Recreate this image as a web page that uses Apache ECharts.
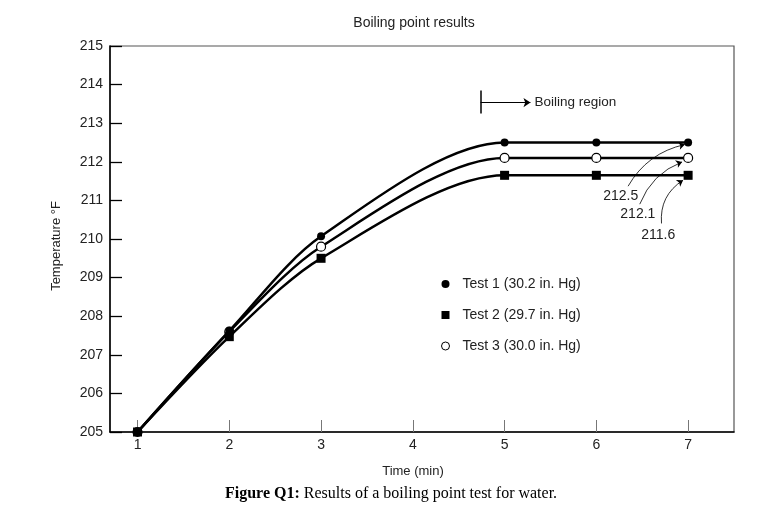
<!DOCTYPE html>
<html>
<head>
<meta charset="utf-8">
<script src="https://cdn.jsdelivr.net/npm/echarts@6/dist/echarts.min.js"></script>
<style>html,body{margin:0;padding:0;background:#fff}#c{width:771px;height:508px}</style>
</head>
<body>
<div id="c"></div>
<script>
const times = [1, 2, 3, 5, 6, 7];
const test1 = [205, 207.62, 210.07, 212.5, 212.5, 212.5];
const test2 = [205, 207.47, 209.5, 211.65, 211.65, 211.65];
const test3 = [205, 207.6, 209.8, 212.1, 212.1, 212.1];
const seriesNames = ['Test 1 (30.2 in. Hg)', 'Test 2 (29.7 in. Hg)', 'Test 3 (30.0 in. Hg)'];
const xTicks = [1, 2, 3, 4, 5, 6, 7];
const boilingValues = ['212.5', '212.1', '211.6'];

const SANS = 'Liberation Sans, Arial, sans-serif';
const SERIF = 'Liberation Serif, Times New Roman, serif';
const SQUARE = 'path://M0,0H10V10H0Z';
const SMOOTH = 0.3;

function pairs(ys) { return times.map((t, i) => [t, ys[i]]); }

const chart = echarts.init(document.getElementById('c'), null, {renderer: 'canvas'});

const arrowLines = [
  {coords: [[6.346, 211.368], [6.964, 212.448]], curv: 0.22},
  {coords: [[6.473, 210.902], [6.934, 211.997]], curv: 0.22},
  {coords: [[6.710, 210.403], [6.945, 211.523]], curv: 0.3}
];
const arrowLabelPos = [[6.266, 211.122], [6.452, 210.643], [6.675, 210.10]];

const option = {
  animation: false,
  backgroundColor: '#fff',
  title: [
    {
      text: 'Boiling point results',
      left: 414, top: 16, textAlign: 'center', padding: 0,
      textStyle: {fontFamily: SANS, fontSize: 14, fontWeight: 'normal', color: '#222'}
    },
    {
      text: '{b|Figure Q1:} Results of a boiling point test for water.',
      left: 225, top: 486, padding: 0,
      textStyle: {
        fontFamily: SERIF, fontSize: 16, fontWeight: 'normal', color: '#000',
        rich: {b: {fontFamily: SERIF, fontSize: 16, fontWeight: 'bold', color: '#000'}}
      }
    }
  ],
  grid: {
    left: 110, right: 37, top: 46, bottom: 76,
    show: true, borderColor: '#555', borderWidth: 1.2, backgroundColor: 'transparent'
  },
  legend: {
    orient: 'vertical',
    left: 436, top: 272,
    itemWidth: 24, itemHeight: 8, itemGap: 17,
    selectedMode: false,
    textStyle: {fontFamily: SANS, fontSize: 14, color: '#222'},
    data: [
      {name: seriesNames[0], icon: 'circle', itemStyle: {color: '#000', borderWidth: 0}},
      {name: seriesNames[1], icon: SQUARE, itemStyle: {color: '#000', borderWidth: 0}},
      {name: seriesNames[2], icon: 'circle', itemStyle: {color: '#fff', borderColor: '#000', borderWidth: 1}}
    ]
  },
  xAxis: {
    type: 'value', min: 0.7, max: 7.5,
    name: 'Time (min)', nameLocation: 'middle', nameGap: 33,
    nameTextStyle: {fontFamily: SANS, fontSize: 13, color: '#222', padding: [0, 18, 0, 0]},
    axisLine: {show: true, lineStyle: {color: '#000', width: 1.5}},
    axisTick: {show: true, inside: true, length: 12, customValues: xTicks, lineStyle: {color: '#777', width: 1}},
    axisLabel: {customValues: xTicks, margin: 6, fontFamily: SANS, fontSize: 14, color: '#222'},
    splitLine: {show: false}
  },
  yAxis: {
    type: 'value', min: 205, max: 215, interval: 1,
    name: 'Temperature °F', nameLocation: 'middle', nameGap: 47, nameRotate: 90,
    nameTextStyle: {fontFamily: SANS, fontSize: 13, color: '#222', padding: [0, 14, 0, 0]},
    axisLine: {show: true, lineStyle: {color: '#000', width: 1.5}},
    axisTick: {show: true, inside: true, length: 12, lineStyle: {color: '#000', width: 1.3}},
    axisLabel: {margin: 7, fontFamily: SANS, fontSize: 14, color: '#222'},
    splitLine: {show: false}
  },
  series: [
    {
      name: seriesNames[0], type: 'line', data: pairs(test1), smooth: SMOOTH,
      symbol: 'circle', symbolSize: 8, z: 3,
      lineStyle: {color: '#000', width: 2.5},
      itemStyle: {color: '#000', borderWidth: 0},
      markLine: {
        silent: true, animation: false,
        symbol: ['none', 'arrow'], symbolSize: 7,
        lineStyle: {color: '#000', width: 1, type: 'solid'},
        label: {show: false},
        data: [
          [
            {coord: [4.738, 213.85], symbol: 'none', lineStyle: {width: 1.5}},
            {coord: [4.738, 213.25], symbol: 'none', lineStyle: {width: 1.5}}
          ],
          [
            {coord: [4.738, 213.535], symbol: 'none',
             label: {show: true, position: 'end', distance: 4, formatter: 'Boiling region',
                     fontFamily: SANS, fontSize: 13.5, color: '#222'}},
            {coord: [5.282, 213.535], symbol: 'arrow', symbolSize: 7,
             label: {show: true, position: 'end', distance: 4, formatter: 'Boiling region',
                     fontFamily: SANS, fontSize: 13.5, color: '#222'}}
          ]
        ]
      },
      markPoint: {
        silent: true, animation: false,
        symbol: 'circle', symbolSize: 1,
        itemStyle: {color: 'rgba(0,0,0,0)'},
        label: {show: true, position: 'inside', fontFamily: SANS, fontSize: 14, color: '#222'},
        data: arrowLabelPos.map((p, i) => ({coord: p, value: boilingValues[i],
          label: {formatter: boilingValues[i]}}))
      }
    },
    {
      name: seriesNames[1], type: 'line', data: pairs(test2), smooth: SMOOTH,
      symbol: 'rect', symbolSize: 9, z: 4,
      lineStyle: {color: '#000', width: 2.5},
      itemStyle: {color: '#000', borderWidth: 0}
    },
    {
      name: seriesNames[2], type: 'line', data: pairs(test3), smooth: SMOOTH,
      symbol: 'circle', symbolSize: 9, z: 2,
      lineStyle: {color: '#000', width: 2.5},
      itemStyle: {color: '#fff', borderColor: '#000', borderWidth: 1.2}
    },
    {
      type: 'lines', coordinateSystem: 'cartesian2d', silent: true, z: 5,
      symbol: ['none', 'arrow'], symbolSize: 6,
      lineStyle: {color: '#000', width: 0.8, opacity: 1},
      data: arrowLines.map(a => ({coords: a.coords, lineStyle: {curveness: a.curv}}))
    }
  ]
};
chart.setOption(option);
</script>
</body>
</html>
